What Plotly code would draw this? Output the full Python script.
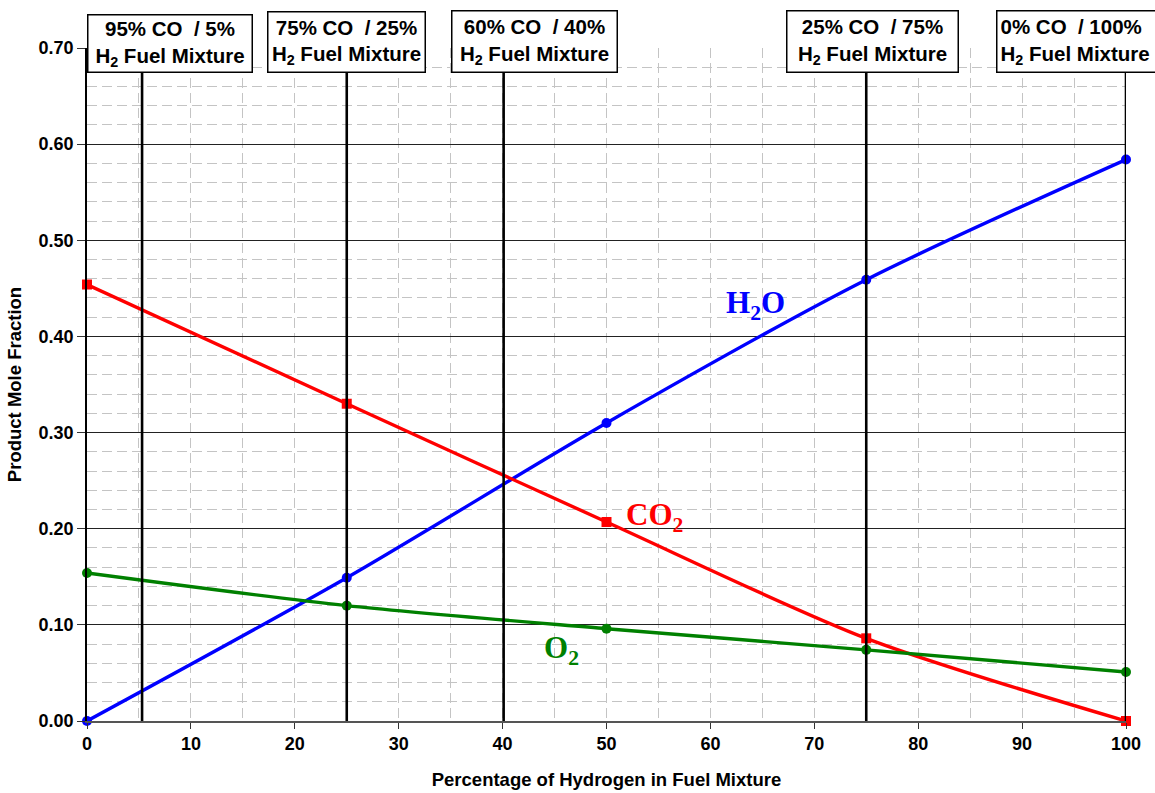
import plotly.graph_objects as go

# ---- data ----
pct_h2 = [0, 25, 50, 75, 100]
h2o = [0.000, 0.149, 0.310, 0.459, 0.584]
co2 = [0.454, 0.330, 0.207, 0.086, 0.000]
o2 = [0.154, 0.120, 0.096, 0.074, 0.051]

mixture_lines = [5.3, 25, 40.1, 75, 100]
mixture_labels = [
    "95% CO\u00a0\u00a0/ 5%<br>H<sub>2</sub> Fuel Mixture",
    "75% CO\u00a0\u00a0/ 25%<br>H<sub>2</sub> Fuel Mixture",
    "60% CO\u00a0\u00a0/ 40%<br>H<sub>2</sub> Fuel Mixture",
    "25% CO\u00a0\u00a0/ 75%<br>H<sub>2</sub> Fuel Mixture",
    "0% CO\u00a0\u00a0/ 100%<br>H<sub>2</sub> Fuel Mixture",
]
# label box layout (x position, anchor, width, height, align)
box_x = [7.99, 24.98, 43.07, 75.6, 87.49]
box_anchor = ["center", "center", "center", "center", "left"]
box_w = [157, 150, 158, 164, 170]
box_h = [50, 53, 54, 54, 54]
box_align = ["center", "center", "center", "center", "left"]

x_ticks = list(range(0, 101, 10))
y_ticks = [0.0, 0.1, 0.2, 0.3, 0.4, 0.5, 0.6, 0.7]

series_names = ["H<sub>2</sub>O", "CO<sub>2</sub>", "O<sub>2</sub>"]
series_colors = ["#0000FF", "#FF0000", "#008000"]
series_symbols = ["circle", "square", "circle"]
label_pos = [(64.3, 0.433), (54.6, 0.212), (45.7, 0.074)]

font_sans = "Liberation Sans, Arial, sans-serif"
font_serif = "Liberation Serif, Times New Roman, serif"

fig = go.Figure()

for name, vals, col, sym in zip(series_names, [h2o, co2, o2], series_colors, series_symbols):
    fig.add_trace(go.Scatter(
        x=pct_h2, y=vals, mode="lines+markers",
        line=dict(color=col, width=3.4, shape="spline", smoothing=0.8),
        marker=dict(color=col, size=10, symbol=sym),
        name=name, showlegend=False, cliponaxis=False,
    ))

for xv in mixture_lines:
    fig.add_trace(go.Scatter(
        x=[xv, xv], y=[0, 0.7], mode="lines",
        line=dict(color="black", width=2.6),
        showlegend=False, hoverinfo="skip", cliponaxis=False,
    ))

annotations = []
for name, col, (lx, ly) in zip(series_names, series_colors, label_pos):
    annotations.append(dict(
        x=lx, y=ly, xref="x", yref="y", text="<b>" + name + "</b>",
        showarrow=False, font=dict(family=font_serif, size=31, color=col),
    ))

for txt, bx, anc, w, h, al in zip(mixture_labels, box_x, box_anchor, box_w, box_h, box_align):
    annotations.append(dict(
        x=bx, y=0.674, xref="x", yref="y", xanchor=anc, yanchor="bottom",
        text="<b>" + txt + "</b>", showarrow=False,
        font=dict(family=font_sans, size=20.5, color="black"),
        bgcolor="white", bordercolor="black", borderwidth=1.5, borderpad=3,
        width=w, height=h, align=al, valign="middle",
    ))

fig.update_layout(
    width=1155, height=793,
    margin=dict(l=87, r=29, t=48, b=72, autoexpand=False),
    paper_bgcolor="white", plot_bgcolor="white",
    font=dict(family=font_sans, color="black"),
    annotations=annotations,
    xaxis=dict(
        range=[0, 100], tickvals=x_ticks, ticktext=["<b>%d</b>" % v for v in x_ticks],
        tickfont=dict(size=18, family=font_sans), ticks="outside", ticklen=6, tickcolor="#333",
        showline=True, linecolor="#555", linewidth=1.5, automargin=False,
        showgrid=True, gridcolor="#c4c4c4", griddash="10px,5px", gridwidth=1,
        minor=dict(dtick=5, showgrid=True, gridcolor="#c4c4c4", griddash="10px,5px", gridwidth=1),
        zeroline=False,
        title=dict(text="<b>Percentage of Hydrogen in Fuel Mixture</b>",
                   font=dict(size=18.5, family=font_sans), standoff=20),
    ),
    yaxis=dict(
        range=[0, 0.7], tickvals=y_ticks, ticktext=["<b>%.2f</b>" % v for v in y_ticks],
        tickfont=dict(size=18, family=font_sans), ticks="outside", ticklen=8, tickcolor="#333",
        showline=True, linecolor="black", linewidth=1.5, automargin=False,
        showgrid=True, gridcolor="#222", gridwidth=1,
        minor=dict(dtick=0.02, showgrid=True, gridcolor="#c4c4c4", griddash="10px,5px", gridwidth=1),
        zeroline=False,
        title=dict(text="<b>Product Mole Fraction</b>",
                   font=dict(size=18.5, family=font_sans), standoff=12),
    ),
)

fig.write_html("out.html")
